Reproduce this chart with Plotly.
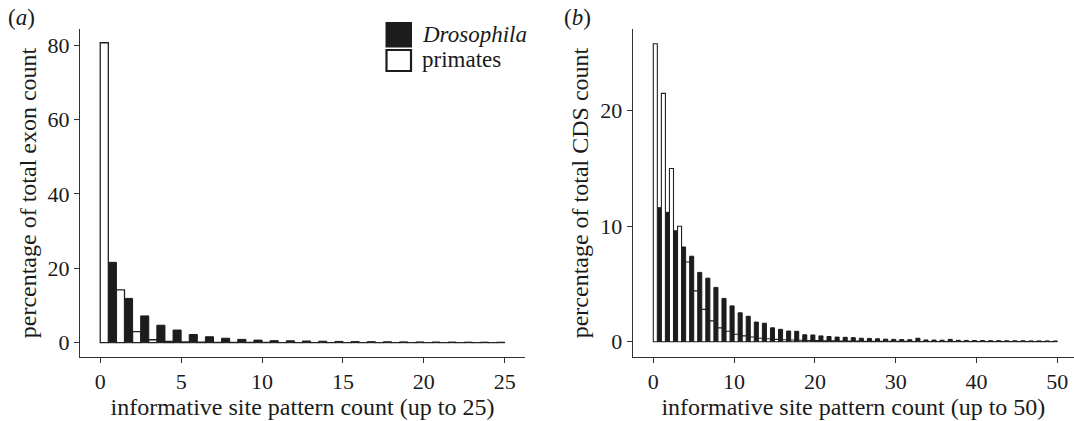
import plotly.graph_objects as go

# ---- data ----
bins_a = list(range(0, 25))
drosophila_a = [21.6, 11.9, 7.2, 4.7, 3.4, 2.2, 1.6, 1.2, 0.9, 0.7, 0.55, 0.5, 0.45, 0.4, 0.35,
                0.3, 0.28, 0.25, 0.22, 0.2, 0.18, 0.17, 0.15, 0.14, 0.13]
primates_a = [80.6, 14.2, 3.0, 0.8, 0.35, 0.2, 0.12, 0.1, 0.08, 0.06, 0.05, 0.04, 0.03, 0.03, 0.02,
              0.02, 0.02, 0.01, 0.01, 0.01, 0.01, 0.01, 0.01, 0.01, 0.01]

bins_b = list(range(0, 50))
drosophila_b = [11.6, 11.2, 9.6, 8.2, 7.4, 6.0, 5.5, 4.7, 3.75, 3.1, 2.5, 2.2, 1.7, 1.6, 1.2,
                1.07, 0.92, 0.9, 0.6, 0.58, 0.5, 0.45, 0.4, 0.38, 0.35, 0.3, 0.28, 0.25, 0.22, 0.2,
                0.18, 0.17, 0.3, 0.15, 0.14, 0.13, 0.2, 0.12, 0.11, 0.1, 0.1, 0.09, 0.09, 0.08, 0.08,
                0.08, 0.07, 0.07, 0.07, 0.06]
primates_b = [25.8, 21.5, 15.0, 10.0, 6.9, 4.4, 2.8, 1.8, 1.2, 0.9, 0.65, 0.5, 0.4, 0.3, 0.25,
              0.2, 0.17, 0.15, 0.12, 0.1, 0.09, 0.08, 0.07, 0.06, 0.05, 0.05, 0.04, 0.04, 0.03, 0.03,
              0.03, 0.03, 0.02, 0.02, 0.02, 0.02, 0.02, 0.02, 0.02, 0.01, 0.01, 0.01, 0.01, 0.01, 0.01,
              0.01, 0.01, 0.01, 0.01, 0.01]

series_names = ["<i>Drosophila</i>", "primates"]
ticks_x_a = [0, 5, 10, 15, 20, 25]
ticks_y_a = [0, 20, 40, 60, 80]
ticks_x_b = [0, 10, 20, 30, 40, 50]
ticks_y_b = [0, 10, 20]

FONT = "Liberation Serif"
INK = "#1a1a1a"
LINE = "#333333"
FS_TICK = 22
FS_TITLE = 24
FS_LEG = 23

W, H = 1074, 421

fig = go.Figure()

fig.add_trace(go.Bar(x=bins_a, y=drosophila_a, width=0.5, offset=0.5, name=series_names[0],
                     marker=dict(color="#1c1c1c", line=dict(color="#1c1c1c", width=1)),
                     xaxis="x", yaxis="y", showlegend=False))
fig.add_trace(go.Bar(x=bins_a, y=primates_a, width=0.5, offset=0.0, name=series_names[1],
                     marker=dict(color="white", line=dict(color="#222222", width=1.3)),
                     xaxis="x", yaxis="y", showlegend=False))
fig.add_trace(go.Bar(x=bins_b, y=drosophila_b, width=0.5, offset=0.5, name=series_names[0],
                     marker=dict(color="#1c1c1c", line=dict(color="#1c1c1c", width=1)),
                     xaxis="x2", yaxis="y2", showlegend=False))
fig.add_trace(go.Bar(x=bins_b, y=primates_b, width=0.5, offset=0.0, name=series_names[1],
                     marker=dict(color="white", line=dict(color="#222222", width=1.1)),
                     xaxis="x2", yaxis="y2", showlegend=False))


def px_x(p):
    return p / W


def px_y(p):
    return 1 - p / H


common = dict(showline=True, linecolor=LINE, linewidth=1.3, ticks="outside", ticklen=5,
              tickcolor=LINE, tickwidth=1.3, showgrid=False, zeroline=False,
              tickfont=dict(family=FONT, size=FS_TICK, color=INK))

# legend (key boxes + labels), placed in paper coordinates
legend_shapes = [
    dict(type="rect", xref="paper", yref="paper",
         x0=px_x(386.5), x1=px_x(411), y0=px_y(46.5), y1=px_y(23),
         fillcolor="#1c1c1c", line=dict(color="#1c1c1c", width=2)),
    dict(type="rect", xref="paper", yref="paper",
         x0=px_x(386.5), x1=px_x(411), y0=px_y(71), y1=px_y(50),
         fillcolor="white", line=dict(color="#1c1c1c", width=2.2)),
]
legend_annots = [
    dict(text=series_names[0], x=px_x(420), y=px_y(34), xref="paper", yref="paper",
         xanchor="left", yanchor="middle", showarrow=False,
         font=dict(family=FONT, size=FS_LEG, color=INK)),
    dict(text=series_names[1], x=px_x(420), y=px_y(59), xref="paper", yref="paper",
         xanchor="left", yanchor="middle", showarrow=False,
         font=dict(family=FONT, size=FS_LEG, color=INK)),
]

fig.update_layout(
    width=W, height=H,
    margin=dict(l=0, r=0, t=0, b=0),
    barmode="overlay",
    plot_bgcolor="white", paper_bgcolor="white",
    font=dict(family=FONT, size=FS_TICK, color=INK),
    showlegend=False,
    xaxis=dict(domain=[px_x(80), px_x(525)], range=[-1.25, 26.25], tickvals=ticks_x_a,
               anchor="y", title=dict(text="informative site pattern count (up to 25)",
                                      font=dict(family=FONT, size=FS_TITLE, color=INK), standoff=2),
               **common),
    yaxis=dict(domain=[px_y(356.7), px_y(29.3)], range=[-3.76, 84.22], tickvals=ticks_y_a,
               anchor="x", title=dict(text="percentage of total exon count",
                                      font=dict(family=FONT, size=FS_TITLE, color=INK), standoff=4),
               **common),
    xaxis2=dict(domain=[px_x(632.7), 1.0], range=[-2.55, 52.07], tickvals=ticks_x_b,
                anchor="y2", title=dict(text="informative site pattern count (up to 50)",
                                        font=dict(family=FONT, size=FS_TITLE, color=INK), standoff=2),
                **common),
    yaxis2=dict(domain=[px_y(356.7), px_y(29.3)], range=[-1.3, 27.05], tickvals=ticks_y_b,
                anchor="x2", title=dict(text="percentage of total CDS count",
                                        font=dict(family=FONT, size=FS_TITLE, color=INK), standoff=4),
                **common),
    shapes=legend_shapes,
    annotations=legend_annots + [
        dict(text="(<i>a</i>)", x=px_x(6), y=px_y(3), xref="paper", yref="paper",
             xanchor="left", yanchor="top", showarrow=False,
             font=dict(family=FONT, size=FS_LEG, color=INK)),
        dict(text="(<i>b</i>)", x=px_x(562), y=px_y(3), xref="paper", yref="paper",
             xanchor="left", yanchor="top", showarrow=False,
             font=dict(family=FONT, size=FS_LEG, color=INK)),
    ],
)

fig.write_html("out.html")
